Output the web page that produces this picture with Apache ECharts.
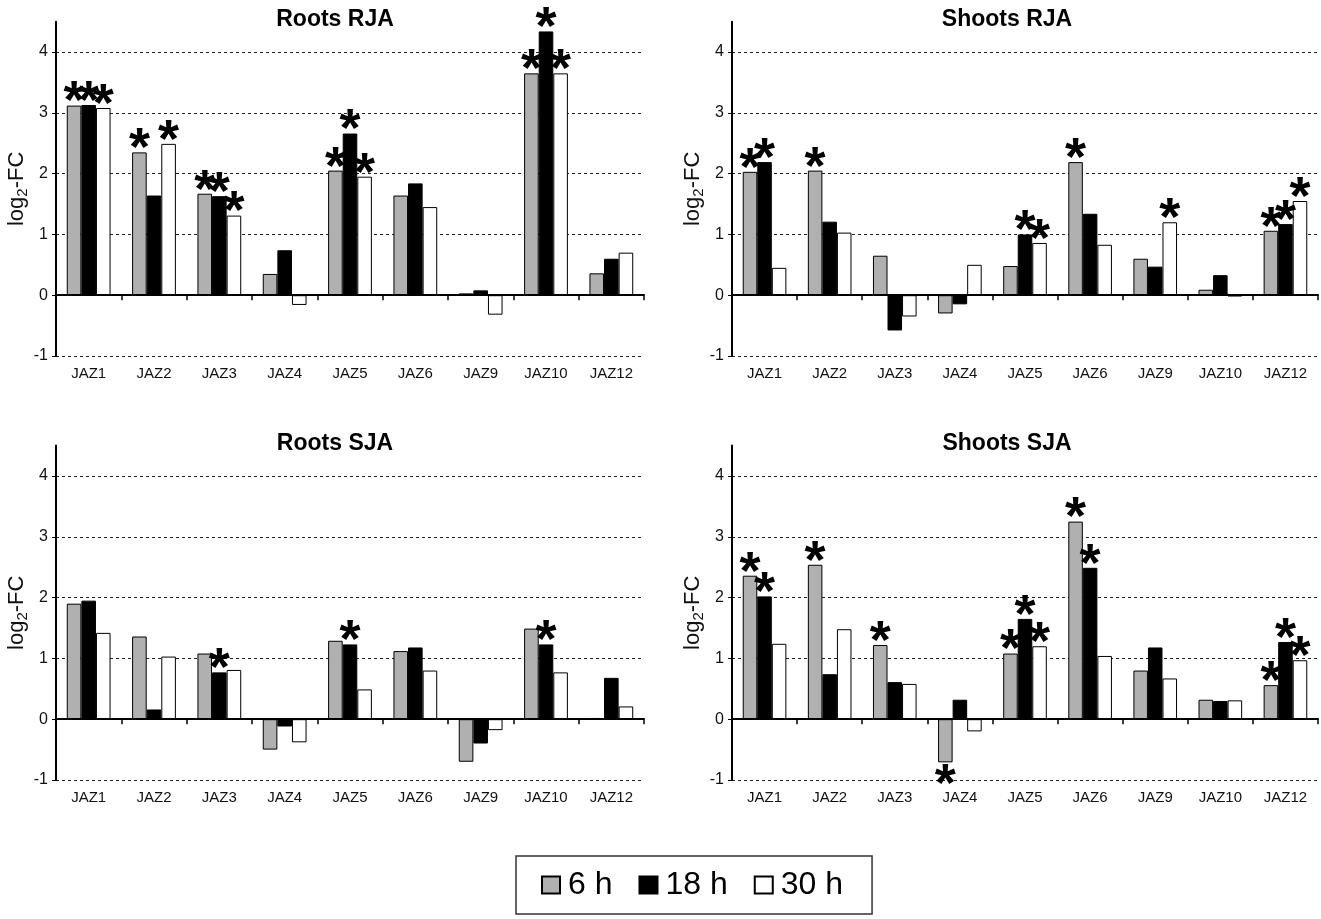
<!DOCTYPE html>
<html><head><meta charset="utf-8">
<script src="https://cdn.jsdelivr.net/npm/echarts@6/dist/echarts.min.js"></script>
<style>html,body{margin:0;padding:0;background:#fff}#c{width:1321px;height:919px}</style>
</head><body><div id="c"></div>
<script>
// ---------- DATA ----------
const categories = ['JAZ1','JAZ2','JAZ3','JAZ4','JAZ5','JAZ6','JAZ9','JAZ10','JAZ12'];
const seriesNames = ['6 h','18 h','30 h'];
const panelTitles = ['Roots RJA','Shoots RJA','Roots SJA','Shoots SJA'];
const yTicks = [-1,0,1,2,3,4];
const yMin = -1, yMax = 4.5;

const rootsRJA_6h  = [3.12, 2.35, 1.67, 0.35, 2.05, 1.64, 0.03, 3.65, 0.36];
const rootsRJA_18h = [3.13, 1.64, 1.63, 0.74, 2.66, 1.84, 0.08, 4.34, 0.60];
const rootsRJA_30h = [3.08, 2.49, 1.31, -0.16, 1.95, 1.45, -0.32, 3.65, 0.70];
const rootsRJA_sig6  = [1,1,1,0,1,0,0,1,0];
const rootsRJA_sig18 = [1,0,1,0,1,0,0,1,0];
const rootsRJA_sig30 = [1,1,1,0,1,0,0,1,0];

const shootsRJA_6h  = [2.03, 2.05, 0.65, -0.30, 0.48, 2.19, 0.60, 0.09, 1.06];
const shootsRJA_18h = [2.19, 1.21, -0.58, -0.15, 1.00, 1.34, 0.47, 0.33, 1.17];
const shootsRJA_30h = [0.45, 1.03, -0.35, 0.50, 0.86, 0.83, 1.20, -0.02, 1.55];
const shootsRJA_sig6  = [1,1,0,0,0,1,0,0,1];
const shootsRJA_sig18 = [1,0,0,0,1,0,0,0,1];
const shootsRJA_sig30 = [0,0,0,0,1,0,1,0,1];

const rootsSJA_6h  = [1.90, 1.36, 1.08, -0.50, 1.29, 1.12, -0.70, 1.49, 0.02];
const rootsSJA_18h = [1.95, 0.16, 0.77, -0.12, 1.23, 1.18, -0.40, 1.23, 0.68];
const rootsSJA_30h = [1.42, 1.03, 0.81, -0.38, 0.49, 0.80, -0.18, 0.77, 0.21];
const rootsSJA_sig6  = [0,0,0,0,0,0,0,0,0];
const rootsSJA_sig18 = [0,0,1,0,1,0,0,1,0];
const rootsSJA_sig30 = [0,0,0,0,0,0,0,0,0];

const shootsSJA_6h  = [2.36, 2.54, 1.22, -0.71, 1.08, 3.25, 0.80, 0.32, 0.56];
const shootsSJA_18h = [2.02, 0.74, 0.61, 0.32, 1.65, 2.49, 1.18, 0.30, 1.27];
const shootsSJA_30h = [1.24, 1.48, 0.58, -0.20, 1.20, 1.04, 0.67, 0.31, 0.97];
const shootsSJA_sig6  = [1,1,1,1,1,1,0,0,1];
const shootsSJA_sig18 = [1,0,0,0,1,1,0,0,1];
const shootsSJA_sig30 = [0,0,0,0,1,0,0,0,1];

// ---------- CHART ----------
const panels = [
  {values:[rootsRJA_6h, rootsRJA_18h, rootsRJA_30h], sig:[rootsRJA_sig6, rootsRJA_sig18, rootsRJA_sig30]},
  {values:[shootsRJA_6h, shootsRJA_18h, shootsRJA_30h], sig:[shootsRJA_sig6, shootsRJA_sig18, shootsRJA_sig30]},
  {values:[rootsSJA_6h, rootsSJA_18h, rootsSJA_30h], sig:[rootsSJA_sig6, rootsSJA_sig18, rootsSJA_sig30]},
  {values:[shootsSJA_6h, shootsSJA_18h, shootsSJA_30h], sig:[shootsSJA_sig6, shootsSJA_sig18, shootsSJA_sig30]}
];
const FONT = "'Liberation Sans', Arial, Helvetica, sans-serif";
const layouts = [
  {left:56, top:21.7, width:588, height:334.3, titleX:335, titleY:8},
  {left:732, top:21.7, width:586, height:334.3, titleX:1007, titleY:8},
  {left:56, top:445.6, width:588, height:334.4, titleX:335, titleY:432},
  {left:732, top:445.6, width:586, height:334.4, titleX:1007, titleY:432}
];
const fills = ['#b0b0b0', '#000000', '#ffffff'];
const STAR_SIZE = 54;

const grid = [], xAxis = [], yAxis = [], series = [], graphic = [];
layouts.forEach((L, i) => {
  grid.push({left:L.left, top:L.top, width:L.width, height:L.height, containLabel:false});
  xAxis.push({
    type:'category', gridIndex:i, data:categories, position:'bottom',
    axisLine:{show:true, onZero:true, lineStyle:{color:'#000', width:2}},
    axisTick:{show:true, inside:false, length:5, alignWithLabel:false, interval:0, lineStyle:{color:'#000', width:1.5}},
    axisLabel:{show:false}, splitLine:{show:false}, z:5
  });
  xAxis.push({
    type:'category', gridIndex:i, data:categories, position:'bottom',
    axisLine:{show:false, onZero:false}, axisTick:{show:false},
    axisLabel:{show:true, interval:0, margin:10, fontSize:15, color:'#111', fontFamily:FONT},
    splitLine:{show:false}
  });
  yAxis.push({
    type:'value', gridIndex:i, min:yMin, max:yMax,
    name:'{a|log}{b|2}{a|-FC}', nameLocation:'middle', nameGap:21, nameRotate:90,
    nameTextStyle:{rich:{a:{fontSize:22, fontFamily:FONT, color:'#111'}, b:{fontSize:15, fontFamily:FONT, color:'#111', padding:[10,0,0,0]}}},
    axisLine:{show:true, onZero:false, lineStyle:{color:'#000', width:2}},
    axisTick:{show:true, inside:false, length:4, customValues:yTicks, lineStyle:{color:'#000', width:1}},
    axisLabel:{show:true, margin:8, fontSize:16, color:'#111', fontFamily:FONT, customValues:yTicks,
      formatter:(v) => (yTicks.indexOf(v) >= 0 ? String(v) : '')},
    splitLine:{show:true, lineStyle:{color:'#222', width:1, type:[3,3]}}
  });
  graphic.push({type:'text', x:L.titleX, y:L.titleY, z:10,
    style:{text:panelTitles[i], font:"bold 23px " + FONT, fill:'#000', textAlign:'center', textVerticalAlign:'top'}});
  const P = panels[i];
  seriesNames.forEach((name, k) => {
    series.push({
      type:'bar', name:name, xAxisIndex:2*i, yAxisIndex:i,
      barGap:'0%', barCategoryGap:'33%', z:3,
      itemStyle:{color:fills[k], borderColor:'#000', borderWidth:1},
      label:{show:false},
      data:P.values[k].map((v, j) => ({
        value:v,
        label:{
          show:!!P.sig[k][j], formatter:'*', fontSize:STAR_SIZE, fontWeight:'bold', color:'#000', fontFamily:FONT,
          position: v < 0 ? 'bottom' : 'top', distance: v < 0 ? -3 : -25
        }
      })),
      animation:false
    });
  });
});

const chart = echarts.init(document.getElementById('c'), null, {renderer:'canvas'});
chart.setOption({
  backgroundColor:'#fff',
  animation:false,
  grid, xAxis, yAxis, series, graphic,
  legend:{
    data:seriesNames, left:516, top:856, orient:'horizontal',
    itemWidth:18, itemHeight:17, itemGap:26, icon:'rect',
    textStyle:{fontSize:32, color:'#000', fontFamily:FONT, padding:[0,0,0,3]},
    padding:[13,29,13,25], borderColor:'#333', borderWidth:1.5, backgroundColor:'#fff',
    selectedMode:false
  }
});
</script></body></html>
